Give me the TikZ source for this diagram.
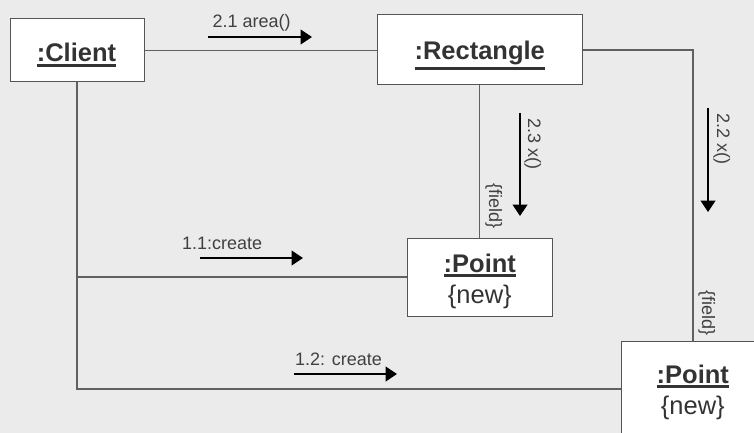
\documentclass[tikz,border=0pt]{standalone}
\usepackage{fontspec}
\setmainfont{Liberation Sans}
\usetikzlibrary{arrows.meta}

\definecolor{canvas}{HTML}{EBEBEB}
\definecolor{boxline}{HTML}{555555}
\definecolor{linkgray}{HTML}{606060}
\definecolor{nametext}{HTML}{333333}
\definecolor{msgtext}{HTML}{404040}

% bold object name with a heavy underline
\newcommand\objname[1]{\vtop{\hbox{\bfseries#1}\kern1.6pt\hrule height 3pt}}

\tikzset{
  objbox/.style={draw=boxline, fill=white, line width=1pt, inner sep=0pt},
  objtext/.style={anchor=base, inner sep=0pt, text=nametext,
                  font=\fontsize{25.5}{30}\selectfont},
  msg/.style={anchor=base west, inner sep=0pt, text=msgtext,
              font=\fontsize{18}{21}\selectfont},
  vmsg/.style={msg, rotate=-90},
  link/.style={draw=linkgray, line width=1.2pt},
  call/.style={draw=black, line width=1.3pt,
               -{Triangle[length=11.5pt,width=15pt]}},
}

\begin{document}
\begin{tikzpicture}[x=1pt, y=-1pt]
  \fill[canvas] (0,0) rectangle (754,433);
  \useasboundingbox (0,0) rectangle (754,433);
  \clip (0,0) rectangle (754,433);

  % objects
  \node[objbox, minimum width=134pt, minimum height=63pt] (client) at (77,50.5) {};
  \node[objbox, minimum width=205pt, minimum height=70pt] (rect) at (479.5,50) {};
  \node[objbox, minimum width=145pt, minimum height=78pt] (p1) at (479.5,277) {};
  \node[objbox, minimum width=144pt, minimum height=96pt] (p2) at (693,389) {};

  \node[objtext] (clientname) at (76.5,61.7) {\objname{:Client}};
  \node[objtext] (rectname) at (479.7,60) {\objname{:Rectangle}};
  \node[objtext] (p1name) at (479.8,272) {\objname{:Point}};
  \node[objtext] (p1new) at (479.8,303) {\{new\}};
  \node[objtext] (p2name) at (692.8,383.3) {\objname{:Point}};
  \node[objtext] (p2new) at (692.8,414.6) {\{new\}};

  % links between objects
  \draw[link] (client.east) -- (client.east -| rect.west);
  \draw[link] (client.south) |- (p1.west);
  \draw[link] (client.south) |- (p2.west);
  \draw[link] (rect.south) -- (p1.north);
  \draw[link] (rect.east) -| (p2.north);

  % link constraints
  \node[vmsg] (field1) at (489,183) {\{field\}};
  \node[vmsg] (field2) at (702,290) {\{field\}};

  % messages
  \coordinate (m21a) at (208,37);  \coordinate (m21b) at (312,37);
  \coordinate (m11a) at (200,258); \coordinate (m11b) at (303,258);
  \coordinate (m12a) at (294,374); \coordinate (m12b) at (397,374);
  \coordinate (m23a) at (520,113); \coordinate (m23b) at (520,216);
  \coordinate (m22a) at (708,108); \coordinate (m22b) at (708,212);

  \draw[call] (m21a) -- (m21b);
  \draw[call] (m11a) -- (m11b);
  \draw[call] (m12a) -- (m12b);
  \draw[call] (m23a) -- (m23b);
  \draw[call] (m22a) -- (m22b);

  \node[msg] (l21) at (212.5,28) {2.1 area()};
  \node[msg] (l11) at (182,249) {1.1:create};
  \node[msg] (l12) at (295,365) {1.2: create};
  \node[vmsg] (l23) at (528,118) {2.3 x()};
  \node[vmsg] (l22) at (717,113) {2.2 x()};
\end{tikzpicture}
\end{document}
